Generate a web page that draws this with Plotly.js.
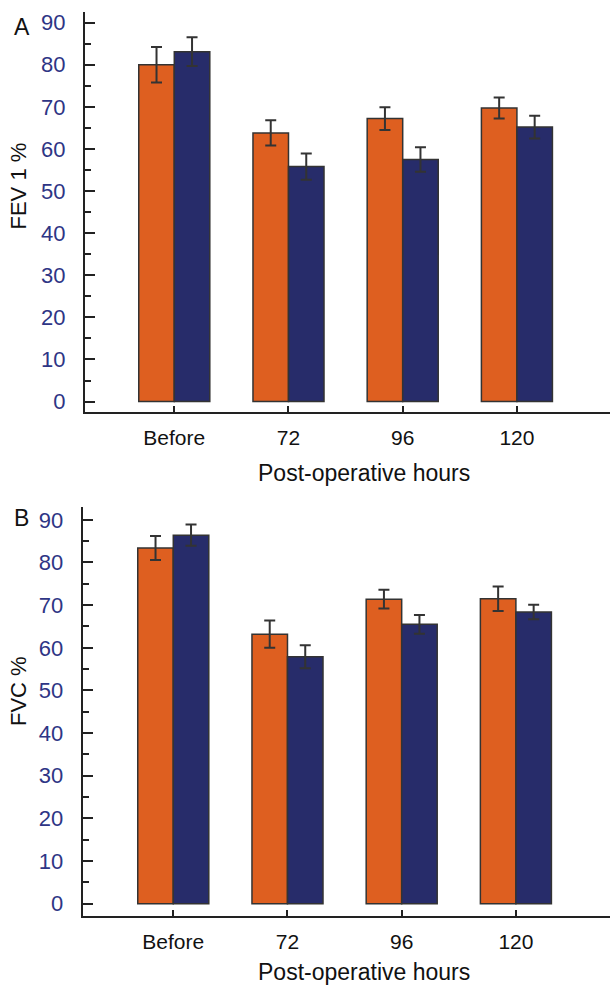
<!DOCTYPE html>
<html>
<head>
<meta charset="utf-8">
<script src="https://cdn.plot.ly/plotly-3.0.1.min.js"></script>
<style>
html,body{margin:0;padding:0;background:#fff;}
#chart{width:610px;height:988px;}
</style>
</head>
<body>
<div id="chart"></div>
<script>
// ---- data ----
const categories = ['Before', '72', '96', '120'];
const fevGroup1 = [80.0, 63.8, 67.2, 69.7];
const fevGroup1Err = [4.2, 3.0, 2.7, 2.5];
const fevGroup2 = [83.1, 55.8, 57.5, 65.2];
const fevGroup2Err = [3.4, 3.1, 2.9, 2.7];
const fvcGroup1 = [83.4, 63.2, 71.4, 71.5];
const fvcGroup1Err = [2.8, 3.2, 2.2, 2.9];
const fvcGroup2 = [86.4, 57.9, 65.5, 68.4];
const fvcGroup2Err = [2.5, 2.7, 2.2, 1.7];
const yTickVals = [0, 10, 20, 30, 40, 50, 60, 70, 80, 90];
const panelLabels = ['A', 'B'];
const yTitles = ['FEV 1 %', 'FVC %'];
const xTitle = 'Post-operative hours';

// ---- styles ----
const ORANGE = '#DE5F20';
const NAVY = '#272C6A';
const EDGE = '#333333';
const TICKBLUE = '#2E3585';
const FONT = 'Liberation Sans, Arial, sans-serif';

function barTrace(vals, errs, color, xa, ya) {
  return {
    type: 'bar', x: categories, y: vals, xaxis: xa, yaxis: ya,
    marker: {color: color, line: {color: EDGE, width: 1.5}},
    error_y: {type: 'data', array: errs, visible: true, color: EDGE, thickness: 2, width: 5.5},
    showlegend: false, hoverinfo: 'y'
  };
}

const data = [
  barTrace(fevGroup1, fevGroup1Err, ORANGE, 'x', 'y'),
  barTrace(fevGroup2, fevGroup2Err, NAVY, 'x', 'y'),
  barTrace(fvcGroup1, fvcGroup1Err, ORANGE, 'x2', 'y2'),
  barTrace(fvcGroup2, fvcGroup2Err, NAVY, 'x2', 'y2')
];

function yAxis(domain, range, anchor) {
  return {
    domain: domain, range: range, anchor: anchor,
    tickvals: yTickVals, ticks: 'inside', ticklen: 10, tickwidth: 2, tickcolor: '#222',
    minor: {dtick: 5, tick0: 0, ticks: 'inside', ticklen: 6, tickwidth: 2, tickcolor: '#222', showgrid: false},
    showline: true, linecolor: '#222', linewidth: 2,
    showgrid: false, zeroline: false,
    tickfont: {family: FONT, size: 22, color: TICKBLUE},
    ticklabelstandoff: 13, fixedrange: true
  };
}
function xAxis(domain, range, anchor) {
  return {
    domain: domain, range: range, anchor: anchor, type: 'category',
    ticks: 'inside', ticklen: 6, tickwidth: 2, tickcolor: '#222',
    showline: true, linecolor: '#222', linewidth: 2,
    showgrid: false, zeroline: false,
    tickfont: {family: FONT, size: 21, color: '#111'},
    ticklabelstandoff: 6,
    fixedrange: true
  };
}

function label(text, x, y, size, angle) {
  return {text: text, xref: 'paper', yref: 'paper', x: x / 610, y: 1 - y / 988, showarrow: false,
    textangle: angle || 0, xanchor: 'center', yanchor: 'middle',
    font: {family: FONT, size: size, color: '#111'}};
}

const layout = {
  width: 610, height: 988,
  margin: {l: 0, r: 0, t: 0, b: 0},
  paper_bgcolor: '#fff', plot_bgcolor: '#fff',
  barmode: 'group', bargap: 0.378, bargroupgap: 0,
  xaxis: xAxis([0.1393, 1], [-0.782, 3.815], 'y'),
  yaxis: yAxis([0.5830, 0.9882], [-2.47, 92.6], 'x'),
  xaxis2: xAxis([0.1356, 1], [-0.793, 3.824], 'y2'),
  yaxis2: yAxis([0.0732, 0.4868], [-2.8, 93.0], 'x2'),
  annotations: [
    label(panelLabels[0], 21.5, 26.7, 23, 0),
    label(panelLabels[1], 21, 517.5, 23, 0),
    label(yTitles[0], 18, 186.5, 22, -90),
    label(yTitles[1], 18, 691, 22, -90),
    label(xTitle, 364, 473.5, 23, 0),
    label(xTitle, 364, 972, 23, 0)
  ]
};

Plotly.newPlot('chart', data, layout, {displayModeBar: false, staticPlot: true});
</script>
</body>
</html>
